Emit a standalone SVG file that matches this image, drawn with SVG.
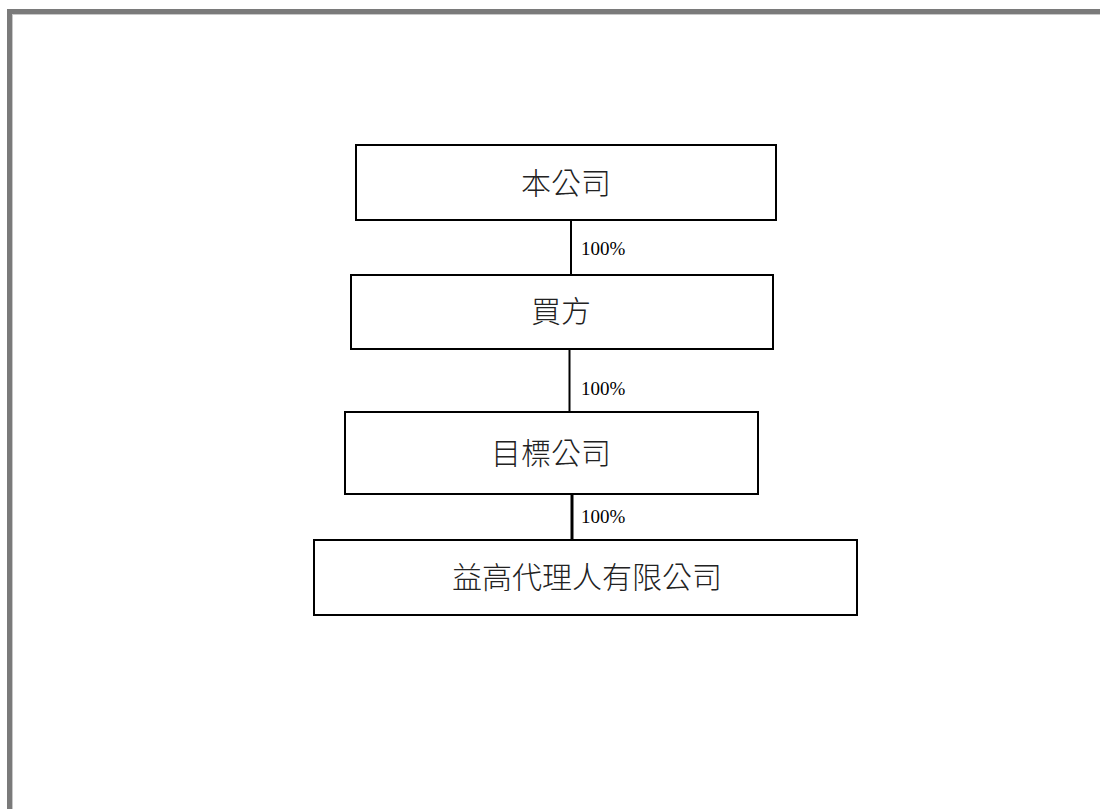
<svg xmlns="http://www.w3.org/2000/svg" width="1100" height="809" viewBox="0 0 1100 809">
<style>
.box{fill:#fff;stroke:#000;stroke-width:2}
.lbl{font-family:"Noto Sans CJK TC","Noto Sans CJK SC",sans-serif;font-size:30px;fill:#222;text-anchor:middle;font-weight:300}
.pct{font-family:"Liberation Serif","Times New Roman",serif;font-size:19px;fill:#000}
.con{stroke:#000;stroke-width:2;fill:none}
</style>
<rect x="0" y="0" width="1100" height="809" fill="#fff"/>
<g id="frame">
<rect x="7" y="9" width="1093" height="5" fill="#7a7a7a"/>
<rect x="7" y="9" width="5" height="800" fill="#7a7a7a"/>
<rect x="12" y="14" width="1088" height="1" fill="#c8c8c8"/>
<rect x="12" y="14" width="1" height="795" fill="#c8c8c8"/>
</g>
<g id="connectors">
<line class="con" x1="571" y1="220" x2="571" y2="275"/>
<line class="con" x1="569.5" y1="349" x2="569.5" y2="412"/>
<line class="con" x1="572" y1="494" x2="572" y2="540" style="stroke-width:3"/>
<text class="pct" x="581" y="255">100%</text>
<text class="pct" x="581" y="395">100%</text>
<text class="pct" x="581" y="523">100%</text>
</g>
<g id="node-company">
<rect class="box" x="356" y="145" width="420" height="75"/>
<text class="lbl" x="566" y="194">本公司</text>
</g>
<g id="node-buyer">
<rect class="box" x="351" y="275" width="422" height="74"/>
<text class="lbl" x="561" y="322">買方</text>
</g>
<g id="node-target">
<rect class="box" x="345" y="412" width="413" height="82"/>
<text class="lbl" x="551" y="464">目標公司</text>
</g>
<g id="node-agent">
<rect class="box" x="314" y="540" width="543" height="75"/>
<text class="lbl" x="587" y="588">益高代理人有限公司</text>
</g>
</svg>
